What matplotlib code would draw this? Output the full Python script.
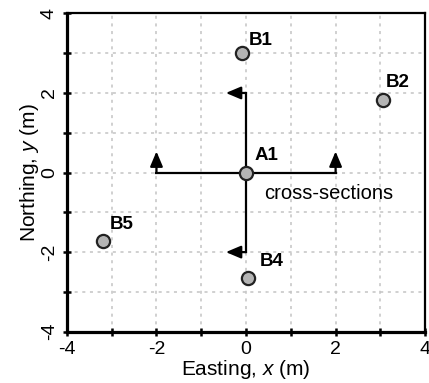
import matplotlib
matplotlib.use("Agg")
import matplotlib.pyplot as plt
import numpy as np

plt.rcParams['font.family'] = ['Liberation Sans', 'DejaVu Sans']
plt.rcParams['axes.unicode_minus'] = False
plt.rcParams['mathtext.fontset'] = 'custom'
plt.rcParams['mathtext.it'] = 'Liberation Sans:italic'
plt.rcParams['mathtext.rm'] = 'Liberation Sans'

# Data
names = ["A1", "B1", "B2", "B4", "B5"]
xs = [0.0, -0.1, 3.05, 0.05, -3.2]
ys = [0.0, 3.0, 1.82, -2.65, -1.73]
label_dx = [0.2, 0.15, 0.08, 0.25, 0.15]
label_dy = [0.42, 0.32, 0.45, 0.42, 0.42]

major_ticks = [-4, -2, 0, 2, 4]
minor_ticks = [-3, -1, 1, 3]

fig = plt.figure(figsize=(4.29, 3.83), dpi=100)
ax = fig.add_axes([0.156, 0.134, 0.835, 0.831])
ax.set_xlim(-4, 4)
ax.set_ylim(-4, 4)

ax.set_xticks(major_ticks)
ax.set_yticks(major_ticks)
ax.set_xticks(minor_ticks, minor=True)
ax.set_yticks(minor_ticks, minor=True)
ax.grid(True, which='both', color='#c4c4c4', linestyle=(0, (2, 3)), linewidth=1.1)
ax.set_axisbelow(True)
ax.tick_params(which='both', direction='inout', length=6, width=1.8, labelsize=14, pad=3.5)
for lab in ax.get_yticklabels():
    lab.set_rotation(90)
    lab.set_va('center')
for s in ['left', 'bottom']:
    ax.spines[s].set_linewidth(2.3)
for s in ['top', 'right']:
    ax.spines[s].set_linewidth(1.6)

# Cross-section lines
lw = 1.6
ax.plot([-2, 2], [0, 0], color='black', lw=lw, zorder=3)
ax.plot([0, 0], [-2, 2], color='black', lw=lw, zorder=3)
astyle = '-|>,head_length=0.9,head_width=0.38'
for xe in (-2, 2):
    ax.annotate('', xy=(xe, 0.53), xytext=(xe, 0),
                arrowprops=dict(arrowstyle=astyle, color='black', lw=lw, shrinkA=0, shrinkB=0))
for ye in (-2, 2):
    ax.annotate('', xy=(-0.45, ye), xytext=(0, ye),
                arrowprops=dict(arrowstyle=astyle, color='black', lw=lw, shrinkA=0, shrinkB=0))

ax.plot(xs, ys, 'o', markersize=9.5, markerfacecolor='#b4b4b4', markeredgecolor='#222222',
        markeredgewidth=1.6, zorder=4, linestyle='none')
for n, x, y, dx, dy in zip(names, xs, ys, label_dx, label_dy):
    ax.text(x + dx, y + dy, n, fontsize=13.5, fontweight='bold', ha='left', va='center', zorder=5)

ax.text(1.85, -0.52, 'cross-sections', fontsize=14.5, ha='center', va='center', zorder=5)

ax.set_xlabel('Easting, $\\it{x}$ (m)', fontsize=15, labelpad=0)
ax.set_ylabel('Northing, $\\it{y}$ (m)', fontsize=15, labelpad=0)

fig.savefig('out.png', dpi=100)
